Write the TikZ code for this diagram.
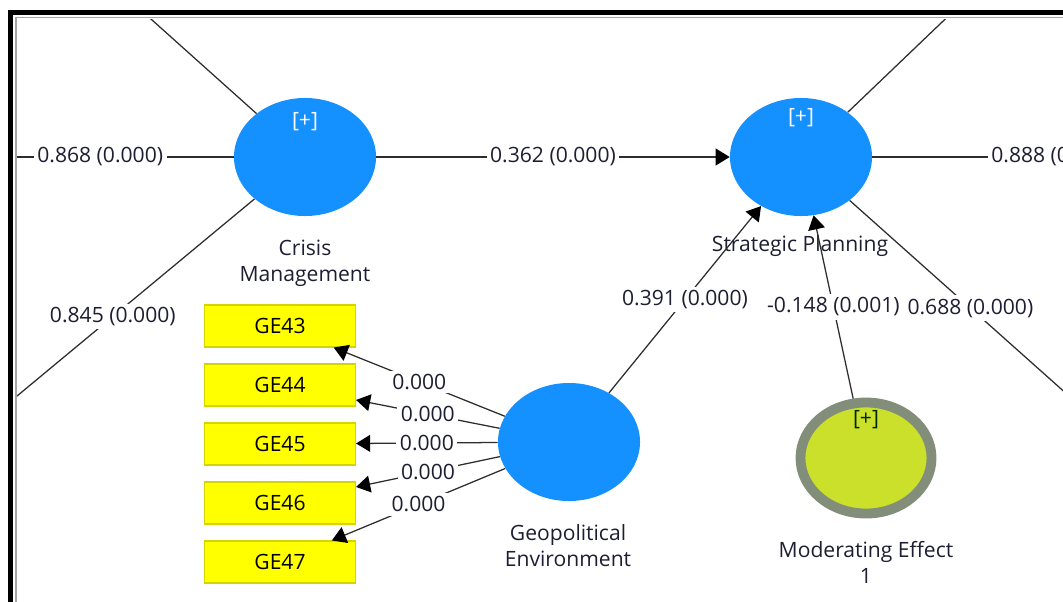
\documentclass[tikz,border=0pt]{standalone}
\usepackage{fontspec}
\setmainfont{Open Sans}
\usetikzlibrary{shapes.geometric,arrows.meta}

\definecolor{lvblue}{RGB}{20,144,255}
\definecolor{modfill}{RGB}{202,224,42}
\definecolor{modring}{RGB}{130,142,122}
\definecolor{itemyellow}{RGB}{255,255,0}
\definecolor{itemedge}{RGB}{212,212,0}
\definecolor{pathline}{RGB}{45,45,45}
\definecolor{labeltext}{RGB}{30,30,50}

\tikzset{
  latent/.style={ellipse, fill=lvblue, inner sep=0pt,
    minimum width=3.55cm, minimum height=2.95cm},
  moderator/.style={ellipse, fill=modfill, draw=modring, line width=7pt,
    inner sep=0pt, outer sep=3.5pt, minimum width=3.275cm, minimum height=2.775cm},
  indicator/.style={rectangle, fill=itemyellow, draw=itemedge, line width=0.8pt,
    inner sep=0pt, minimum width=3.775cm, minimum height=1.05cm, text=black},
  coef/.style={fill=white, inner sep=2.5pt, text=labeltext},
  lvname/.style={align=center, text=labeltext},
  link/.style={draw=pathline, line width=0.9pt}
}

\begin{document}
\begin{tikzpicture}[x=0.025cm, y=-0.025cm,
    font=\fontsize{15}{18.4}\selectfont,
    >={Triangle[length=10pt,width=12pt,color=black]}]
    \useasboundingbox (0,0) rectangle (1063,601);
    % window frame
    \draw[line width=3.6pt] (10.5,620) -- (10.5,12.5) -- (1080,12.5);
    \draw[gray!70, line width=0.8pt] (16,620) -- (16,17.5) -- (1080,17.5);
    \begin{scope}
        \clip (17,19) rectangle (1063,601);
        % constructs
        \node[latent] (CM) at (305,157) {};
            \node[text=white] (CMplus) at (305,122) {[+]};
            \node[lvname] (CMname) at (305,263) {Crisis\\Management};
        \node[latent] (SP) at (801,157) {};
            \node[text=white] (SPplus) at (801,118) {[+]};
            \node[lvname] (SPname) at (800,246) {Strategic Planning};
        \node[latent] (GE) at (569,442) {};
            \node[lvname] (GEname) at (568,546) {Geopolitical\\Environment};
        \node[moderator] (ME) at (866,458) {};
            \node[text=black!85!green] (MEplus) at (866,420) {[+]};
            \node[lvname] (MEname) at (866,562) {Moderating Effect\\1};
        % indicators of GE
        \foreach \n [count=\i from 0] in {43,...,47}
            \node[indicator] (GE\n) at (280,326+59*\i) {GE\n};
        \foreach \n in {43,...,47}
            \draw[link, ->] (GE) -- node[coef] {0.000} (GE\n);
        % loadings leaving the window
        \coordinate (cmA) at (75,-49);
        \coordinate (cmB) at (-100,157);
        \coordinate (cmC) at (-42,445);
        \coordinate (spA) at (986,-20);
        \coordinate (spB) at (1200,157);
        \coordinate (spC) at (1115,437);
        \draw[link] (CM) -- (cmA);
        \draw[link] (CM) -- node[coef, pos=0.40] {0.868 (0.000)} (cmB);
        \draw[link] (CM) -- node[coef, pos=0.478] {0.845 (0.000)} (cmC);
        \draw[link] (SP) -- (spA);
        \draw[link] (SP) -- node[coef, pos=0.555] {0.888 (0.000)} (spB);
        \draw[link] (SP) -- node[coef, pos=0.455] {0.688 (0.000)} (spC);
        % paths
        \draw[link, ->] (CM) -- node[coef] {0.362 (0.000)} (SP);
        \draw[link, ->] (GE) -- node[coef] {0.391 (0.000)} (SP);
        \draw[link, ->] (ME) -- node[coef] {-0.148 (0.001)} (SP);
    \end{scope}
\end{tikzpicture}
\end{document}
